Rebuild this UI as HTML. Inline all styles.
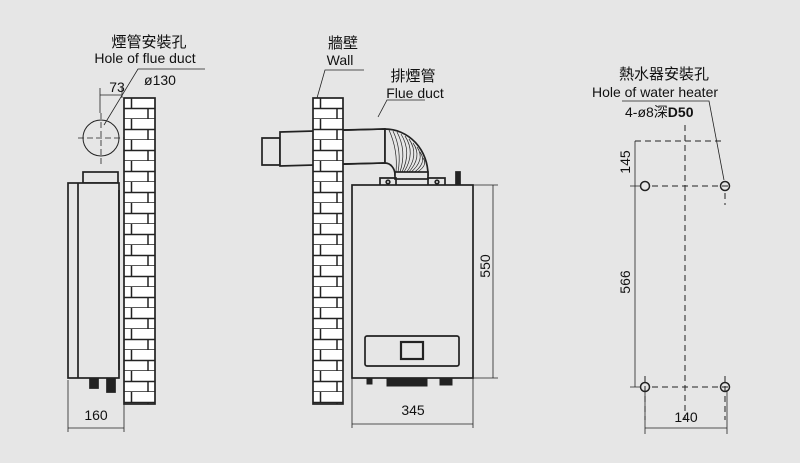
<!DOCTYPE html>
<html><head><meta charset="utf-8"><style>
html,body{margin:0;padding:0;background:#e6e6e6;}
svg{display:block;}
text{font-family:"Liberation Sans","Noto Sans CJK TC",sans-serif;fill:#111;}
</style></head><body>
<svg width="800" height="463" viewBox="0 0 800 463" xmlns="http://www.w3.org/2000/svg">
<defs>
<pattern id="brick" x="124" y="98" width="31" height="21" patternUnits="userSpaceOnUse">
<rect width="31" height="21" fill="#fff"/>
<path d="M0 10.5H31M0 21H31M7.5 0V10.5M24 10.5V21" stroke="#222" stroke-width="1.5" fill="none"/>
</pattern>
<pattern id="brick2" x="313" y="98" width="31" height="21" patternUnits="userSpaceOnUse">
<rect width="31" height="21" fill="#fff"/>
<path d="M0 10.5H31M0 21H31M7.5 0V10.5M24 10.5V21" stroke="#222" stroke-width="1.5" fill="none"/>
</pattern>
</defs>
<rect width="800" height="463" fill="#e6e6e6"/>
<g stroke="#222" stroke-width="1.7" fill="none">
<!-- LEFT -->
<rect x="124" y="98" width="31" height="306" fill="url(#brick)"/>
<circle cx="101" cy="138" r="18" stroke-width="1"/>
<path d="M78 138H124M101 113V164" stroke-dasharray="6,3" stroke-width="0.8"/>
<path d="M100 88V113M122 88V98M100 95H122" stroke-width="0.8"/>
<path d="M104 125L138 69H205" stroke-width="0.8"/>
<rect x="83" y="172" width="35" height="11" fill="#e6e6e6"/>
<rect x="68" y="183" width="51" height="195" fill="#e6e6e6"/>
<path d="M78 183V378M119 190V370"/>
<path d="M90 378v10h8v-10M107 378v14h8v-14" fill="#222"/>
<path d="M68 380V432M124 404V432M68 428H124" stroke-width="0.8"/>
<!-- MIDDLE -->
<path d="M262 138h18v27h-18z" fill="#e6e6e6"/>
<path d="M280 132L385 129L385 163L280 166Z" fill="#e6e6e6"/>
<rect x="313" y="98" width="30" height="306" fill="url(#brick2)"/>
<path d="M343 130L385 129M343 164L385 163"/>
<path d="M385 129 A43 46 0 0 1 428 175 L395 175 A10 12 0 0 0 385 163 Z" fill="#e6e6e6"/>
<g stroke-width="0.7">
<path d="M389 130Q398 150 396 172M393 131Q402 150 398 172M397 132Q407 151 400 172M401 134Q412 152 402 172M405 136Q416 153 404 172M409 139Q420 155 406 173M413 143Q423 157 408 173M417 147Q426 160 410 173M420 152Q428 163 412 174M423 158Q429 166 414 174"/>
</g>
<rect x="395" y="172" width="33" height="7" fill="#e6e6e6"/>
<path d="M380 185V178h16v7M428 185V178h17v7" />
<circle cx="388" cy="182" r="1.8"/><circle cx="437" cy="182" r="1.8"/>
<path d="M456 185V172h4v13Z" fill="#222"/>
<rect x="352" y="185" width="121" height="193" fill="#e6e6e6"/>
<rect x="365" y="336" width="94" height="30" rx="2"/>
<rect x="401" y="342" width="22" height="17" stroke-width="2.2"/>
<path d="M367 378v6h5v-6M387 378v8h40v-8M440 378v7h12v-7" fill="#222" stroke-width="1"/>
<path d="M473 185H498M473 378H498M493 185V378" stroke-width="0.8"/>
<path d="M352 378V428M473 378V428M352 424H473" stroke-width="0.8"/>
<path d="M317 98L325 70H364" stroke-width="0.8"/>
<path d="M378 117L387 100H425" stroke-width="0.8"/>
<!-- RIGHT -->
<g stroke-dasharray="6,4" stroke-width="1">
<path d="M685 125V420M635 141H722M652 186H730M652 387H730M725 193V205M725 376V420M645 376V420"/>
</g>
<circle cx="645" cy="186" r="4.5" stroke-width="1.5"/>
<circle cx="725" cy="186" r="4.5" stroke-width="1.5"/>
<circle cx="645" cy="387" r="4.5" stroke-width="1.5"/>
<circle cx="725" cy="387" r="4.5" stroke-width="1.5"/>
<path d="M635 141V387M630 186H640M630 387H640" stroke-width="0.8"/>
<path d="M622 101H709L724 180" stroke-width="0.8"/>
<path d="M645 390V434M727 390V434M645 428H727" stroke-width="0.8"/>
</g>
<!-- text -->
<text x="149" y="47" font-size="15" text-anchor="middle">煙管安裝孔</text>
<text x="145" y="63" font-size="14" text-anchor="middle">Hole of flue duct</text>
<text x="160" y="85" font-size="14" text-anchor="middle">ø130</text>
<text x="117" y="92" font-size="14" text-anchor="middle">73</text>
<text x="96" y="420" font-size="14" text-anchor="middle">160</text>
<text x="343" y="48" font-size="15" text-anchor="middle">牆壁</text>
<text x="340" y="65" font-size="14" text-anchor="middle">Wall</text>
<text x="413" y="81" font-size="15" text-anchor="middle">排煙管</text>
<text x="415" y="98" font-size="14" text-anchor="middle">Flue duct</text>
<text x="413" y="415" font-size="14" text-anchor="middle">345</text>
<text x="490" y="266" font-size="14" text-anchor="middle" transform="rotate(-90 490 266)">550</text>
<text x="664" y="79" font-size="15" text-anchor="middle">熱水器安裝孔</text>
<text x="655" y="97" font-size="14" text-anchor="middle">Hole of water heater</text>
<text x="625" y="117" font-size="14">4-ø8深<tspan font-weight="bold">D50</tspan></text>
<text x="630" y="162" font-size="14" text-anchor="middle" transform="rotate(-90 630 162)">145</text>
<text x="630" y="282" font-size="14" text-anchor="middle" transform="rotate(-90 630 282)">566</text>
<text x="686" y="422" font-size="14" text-anchor="middle">140</text>
</svg>
</body></html>
